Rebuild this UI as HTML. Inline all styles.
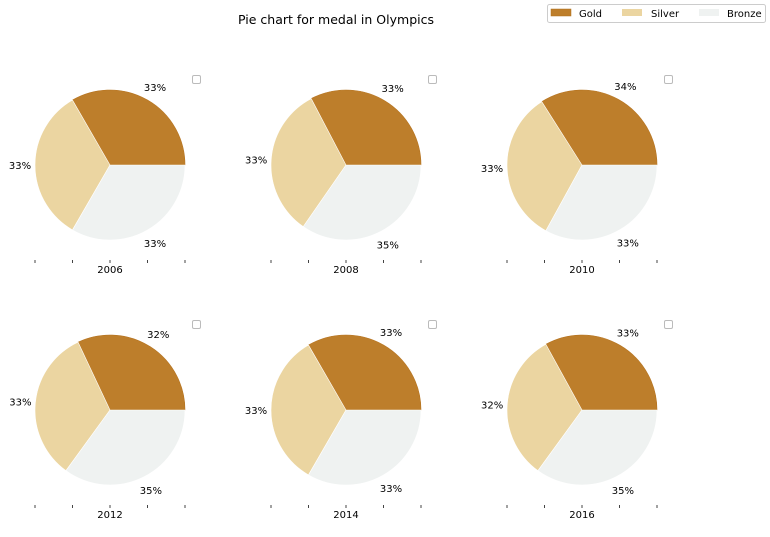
<!DOCTYPE html>
<html><head><meta charset="utf-8"><style>
body{margin:0;background:#fff;font-family:"Liberation Sans","DejaVu Sans",sans-serif;}
svg text{font-family:"DejaVu Sans","Liberation Sans",sans-serif;}
</style></head><body>
<svg id="chart" width="770" height="532" xmlns="http://www.w3.org/2000/svg">
<text x="336" y="24" font-size="12.5" text-anchor="middle">Pie chart for medal in Olympics</text>
<g>
<rect x="547.5" y="4.5" width="218" height="18" rx="2" fill="#fff" stroke="#ccc"/>
<rect x="551" y="9" width="20" height="7" fill="#bd7e2b" stroke="#b0701a" stroke-width="0.5"/>
<text x="579" y="17" font-size="10">Gold</text>
<rect x="622" y="9" width="20" height="7" fill="#ebd5a1"/>
<text x="651" y="17" font-size="10">Silver</text>
<rect x="699" y="9" width="20" height="7" fill="#eff2f1"/>
<text x="727" y="17" font-size="10">Bronze</text>
</g>
<g id="pies"></g>
</svg>
<script>
const years = ["2006","2008","2010","2012","2014","2016"];
const gold = [33,33,34,32,33,33];
const silver = [33,33,33,33,33,32];
const bronze = [33,35,33,35,33,35];
const colors = ["#bd7e2b","#ebd5a1","#eff2f1"];
const NS="http://www.w3.org/2000/svg";
const g=document.getElementById('pies');
const cxs=[110,346,582], cys=[165,410], R=75;
function mk(tag,attrs){const e=document.createElementNS(NS,tag);for(const k in attrs)e.setAttribute(k,attrs[k]);return e;}
years.forEach((yr,i)=>{
  const cx=cxs[i%3], cy=cys[Math.floor(i/3)];
  const vals=[gold[i],silver[i],bronze[i]];
  const sum=vals.reduce((a,b)=>a+b,0);
  let a0=0;
  const grp=mk('g',{});
  
  
  vals.forEach((v,j)=>{
    const a1=a0+v/sum*2*Math.PI;
    const x0=cx+R*Math.cos(a0), y0=cy-R*Math.sin(a0);
    const x1=cx+R*Math.cos(a1), y1=cy-R*Math.sin(a1);
    const large=(a1-a0)>Math.PI?1:0;
    const p=mk('path',{d:`M${cx},${cy}L${x0},${y0}A${R},${R} 0 ${large} 0 ${x1},${y1}Z`,fill:colors[j],stroke:j==0?'#b5721e':'#fff','stroke-width':0.6});
    
    
    grp.appendChild(p);
    const am=(a0+a1)/2;
    const t=mk('text',{x:cx+1.2*R*Math.cos(am),y:cy-1.2*R*Math.sin(am)+4,'font-size':10,'text-anchor':'middle'});
    t.textContent=Math.round(v/sum*100)+'%';
    
    
    grp.appendChild(t);
    a0=a1;
  });
  for(let k=-2;k<=2;k++){
    const tk=mk('line',{x1:cx+k*R/2,x2:cx+k*R/2,y1:cy+95,y2:cy+98,stroke:'#444','stroke-width':1});
    
    
    grp.appendChild(tk);
  }
  const yl=mk('text',{x:cx,y:cy+108,'font-size':10,'text-anchor':'middle'});
  yl.textContent=yr;
  
  
  grp.appendChild(yl);
  const cb=mk('rect',{x:cx+82.5,y:cy-89.5,width:8,height:8,rx:1.5,fill:'#fff',stroke:'#bbb'});
  
  
  grp.appendChild(cb);
  g.appendChild(grp);
});
</script>
</body></html>
